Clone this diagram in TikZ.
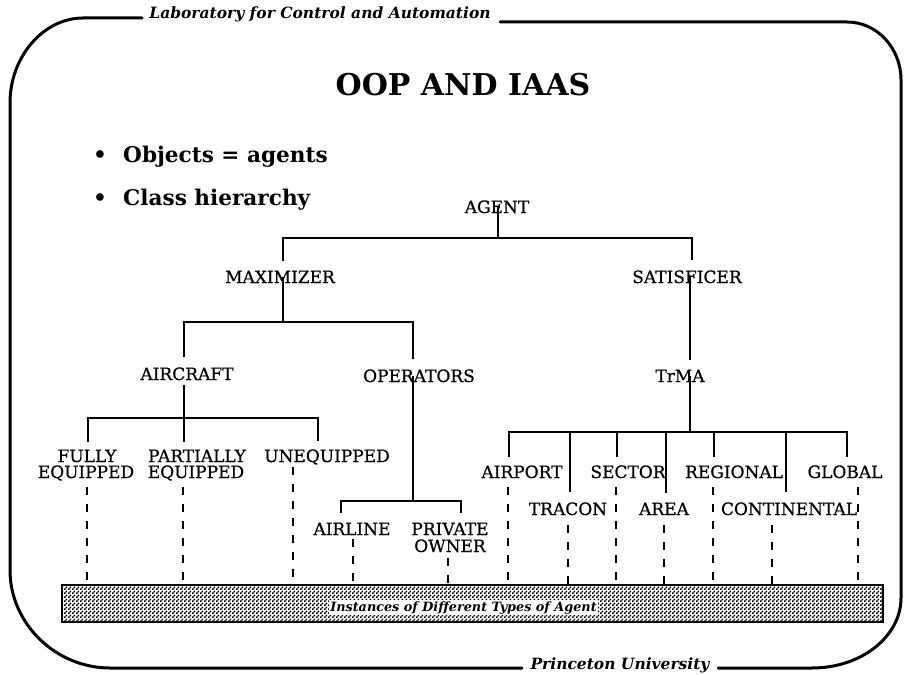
\documentclass[tikz,border=0pt]{standalone}
\usepackage{fontspec}
\setmainfont{DejaVu Serif}
\newfontfamily\labelfont[FakeBold=0.6]{DejaVu Serif}
\usetikzlibrary{patterns}

% fine 2x2 checker used as the screen of the instance band
\pgfdeclarepatternformonly{finechecker}{\pgfqpoint{0pt}{0pt}}{\pgfqpoint{4pt}{4pt}}{\pgfqpoint{4pt}{4pt}}{%
  \pgfpathrectangle{\pgfqpoint{0pt}{0pt}}{\pgfqpoint{2pt}{2pt}}%
  \pgfpathrectangle{\pgfqpoint{2pt}{2pt}}{\pgfqpoint{2pt}{2pt}}%
  \pgfusepath{fill}}

\begin{document}
\begin{tikzpicture}[x=1pt,y=-1pt,
  lbl/.style={inner sep=0pt, outer sep=0pt, anchor=base, font=\labelfont\fontsize{17}{17}\selectfont},
  hdr/.style={inner sep=0pt, anchor=base, font=\fontsize{15.5}{15.5}\selectfont\bfseries\itshape},
  bigtitle/.style={inner sep=0pt, anchor=base, font=\fontsize{30}{30}\selectfont\bfseries},
  point/.style={inner sep=0pt, anchor=base west, font=\fontsize{21.6}{21.6}\selectfont\bfseries},
  tree/.style={line width=2pt},
  drop/.style={line width=2pt, dash pattern=on 8pt off 9pt},
  frameline/.style={line width=3pt, line cap=round},
  band/.style={draw, line width=2pt, inner sep=0pt, pattern=finechecker}]
\useasboundingbox[fill=white] (0,0) rectangle (904,674);

% page frame with its two captions
\node[hdr] (lab) at (320,19) {Laboratory for Control and Automation};
\node[hdr] (pu) at (620,669.5) {Princeton University};
\draw[frameline] (142,18) -- (83,18) .. controls (44,18) and (10,56) .. (10,103)
  -- (10,570) .. controls (10,624) and (56,668) .. (110,668) -- (522,668);
\draw[frameline] (718,668) -- (812,668) .. controls (862,668) and (901,636) .. (901,598)
  -- (901,80) .. controls (901,48) and (877,22) .. (847,22) -- (500,22);

% heading and bullet points
\node[bigtitle] (title) at (463,96) {OOP AND IAAS};
\node[point, anchor=base] (dot1) at (100,162) {•};
\node[point] (obj) at (123,162) {Objects = agents};
\node[point, anchor=base] (dot2) at (100,205) {•};
\node[point] (cls) at (123,205) {Class hierarchy};

% class hierarchy labels
\node[lbl] (agent) at (497,213) {AGENT};
\node[lbl] (maxi) at (280,283) {MAXIMIZER};
\node[lbl] (sat) at (687,283) {SATISFICER};
\node[lbl] (aircraft) at (187,380) {AIRCRAFT};
\node[lbl] (oper) at (419,382) {OPERATORS};
\node[lbl] (trma) at (680,382) {TrMA};
\node[lbl] (fully) at (87,462) {FULLY};
\node[lbl] (fullyb) at (86,478) {EQUIPPED};
\node[lbl] (partial) at (197,462) {PARTIALLY};
\node[lbl] (partialb) at (196,478) {EQUIPPED};
\node[lbl] (unequ) at (327,462) {UNEQUIPPED};
\node[lbl] (airline) at (352,535) {AIRLINE};
\node[lbl] (private) at (450,535) {PRIVATE};
\node[lbl] (owner) at (450,552) {OWNER};
\node[lbl] (airport) at (522,478) {AIRPORT};
\node[lbl] (sector) at (628,478) {SECTOR};
\node[lbl] (regional) at (734,478) {REGIONAL};
\node[lbl] (global) at (845,478) {GLOBAL};
\node[lbl] (tracon) at (568,515) {TRACON};
\node[lbl] (area) at (664,515) {AREA};
\node[lbl] (conti) at (789,515) {CONTINENTAL};

% instance band
\node[band, minimum width=821pt, minimum height=37pt] (bar) at (472.5,603.5) {};
\node[inner sep=1.5pt, anchor=base, fill=white, font=\fontsize{12.8}{12.8}\selectfont\bfseries\itshape]
  (insttxt) at (463.5,611) {Instances of Different Types of Agent};

% junction points of the tree
\coordinate (jagent) at (498,238);
\coordinate (jmaxi) at (283,322);
\coordinate (jair) at (184,418);
\coordinate (joper) at (413,501);
\coordinate (jtrma) at (690,432);

% AGENT
\draw[tree] (jagent |- agent.center) -- (jagent);
\draw[tree] ([xshift=3pt,yshift=10pt]maxi.north) |- (jagent) -| ([xshift=5pt,yshift=10pt]sat.north);
% MAXIMIZER
\draw[tree] (jmaxi |- maxi.center) -- (jmaxi);
\draw[tree] ([xshift=-3pt,yshift=10pt]aircraft.north) |- (jmaxi) -| ([xshift=-6pt,yshift=10pt]oper.north);
% SATISFICER
\draw[tree] ([xshift=3pt]sat.center) -- ([xshift=10pt,yshift=10pt]trma.north);
% AIRCRAFT
\draw[tree] ([yshift=-5pt]jair |- aircraft.base) -- (jair);
\draw[tree] ([xshift=1pt,yshift=8pt]fully.north) |- (jair) -| ([xshift=-9pt,yshift=8pt]unequ.north);
\draw[tree] (jair) -- ([yshift=8pt]jair |- partial.north);
% OPERATORS
\draw[tree] (joper |- oper.center) -- (joper);
\draw[tree] ([xshift=-11pt,yshift=10pt]airline.north) |- (joper) -| ([xshift=11pt,yshift=10pt]private.north);
% TrMA
\draw[tree] (jtrma |- trma.center) -- (jtrma);
\draw[tree] ([xshift=-13pt,yshift=8pt]airport.north) |- (jtrma) -| ([xshift=2pt,yshift=8pt]global.north);
\draw[tree] ([xshift=2pt]tracon.north |- jtrma) -- ([xshift=2pt,yshift=10pt]tracon.north);
\draw[tree] ([xshift=-11pt]sector.north |- jtrma) -- ([xshift=-11pt,yshift=8pt]sector.north);
\draw[tree] ([xshift=2pt]area.north |- jtrma) -- ([xshift=2pt,yshift=10pt]area.north);
\draw[tree] ([xshift=-20pt]regional.north |- jtrma) -- ([xshift=-20pt,yshift=8pt]regional.north);
\draw[tree] ([xshift=-3pt]conti.north |- jtrma) -- ([xshift=-3pt,yshift=10pt]conti.north);

% instances hang from the leaf classes
\draw[drop] ([xshift=1pt,yshift=-9pt]fullyb.base) -- ([xshift=1pt]fullyb.base |- bar.north);
\draw[drop] ([xshift=-13pt,yshift=-9pt]partialb.base) -- ([xshift=-13pt]partialb.base |- bar.north);
\draw[drop] ([xshift=-34pt,yshift=-5pt]unequ.base) -- ([xshift=-34pt]unequ.base |- bar.north);
\draw[drop] ([xshift=1pt,yshift=-4pt]airline.base) -- ([xshift=1pt]airline.base |- bar.north);
\draw[drop] ([xshift=-2pt,yshift=-6pt]owner.base) -- ([xshift=-2pt]owner.base |- bar.north);
\draw[drop] ([xshift=-14pt,yshift=-9pt]airport.base) -- ([xshift=-14pt]airport.base |- bar.north);
\draw[drop] ([xshift=-12pt,yshift=-9pt]sector.base) -- ([xshift=-12pt]sector.base |- bar.north);
\draw[drop] ([xshift=-21pt,yshift=-9pt]regional.base) -- ([xshift=-21pt]regional.base |- bar.north);
\draw[drop] ([xshift=13pt,yshift=-9pt]global.base) -- ([xshift=13pt]global.base |- bar.north);
\draw[drop] ([yshift=-10pt]tracon.base) -- (tracon.base |- bar.north);
\draw[drop] ([yshift=-10pt]area.base) -- (area.base |- bar.north);
\draw[drop] ([xshift=-17pt,yshift=-10pt]conti.base) -- ([xshift=-17pt]conti.base |- bar.north);
\end{tikzpicture}
\end{document}
